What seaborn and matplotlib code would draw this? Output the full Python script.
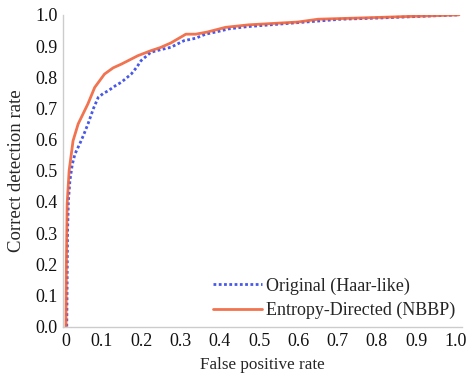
import pandas as pd
import numpy as np
import seaborn as sns
import matplotlib.pyplot as plt
import matplotlib.transforms as mtransforms

# Datos (curvas ROC)
fpr_haar = [0.002, 0.003, 0.004, 0.006, 0.010, 0.016, 0.023, 0.035, 0.045, 0.056, 0.070,
            0.082, 0.095, 0.107, 0.125, 0.141, 0.166, 0.180, 0.191, 0.216, 0.240,
            0.267, 0.300, 0.330, 0.355, 0.385, 0.414, 0.460, 0.520, 0.600, 0.700,
            0.800, 0.900, 1.000]
tpr_haar = [0.000, 0.150, 0.300, 0.400, 0.468, 0.520, 0.554, 0.586, 0.615, 0.650, 0.700,
            0.735, 0.748, 0.756, 0.772, 0.784, 0.810, 0.832, 0.853, 0.880, 0.888,
            0.896, 0.917, 0.925, 0.938, 0.946, 0.955, 0.962, 0.968, 0.976, 0.986,
            0.990, 0.995, 1.000]

fpr_nbbp = [0.000, 0.001, 0.003, 0.008, 0.018, 0.031, 0.056, 0.073, 0.098, 0.120,
            0.141, 0.183, 0.216, 0.240, 0.267, 0.305, 0.330, 0.360, 0.406, 0.465,
            0.590, 0.641, 0.800, 0.900, 1.000]
tpr_nbbp = [0.000, 0.200, 0.394, 0.500, 0.596, 0.650, 0.715, 0.767, 0.810, 0.830,
            0.842, 0.869, 0.885, 0.895, 0.910, 0.938, 0.938, 0.945, 0.960, 0.968,
            0.977, 0.986, 0.992, 0.996, 1.000]

sns.set_theme(style="white")
plt.rcParams['font.family'] = ['Liberation Serif', 'DejaVu Serif']

fig = plt.figure(figsize=(4.68, 3.81), dpi=100)
ax = fig.add_axes([0.1346, 0.143, 0.8526, 0.818])

df_haar = pd.DataFrame({'fpr': fpr_haar, 'tpr': tpr_haar})
df_nbbp = pd.DataFrame({'fpr': fpr_nbbp, 'tpr': tpr_nbbp})

sns.lineplot(data=df_haar, x='fpr', y='tpr', sort=False, estimator=None, ax=ax,
             color='#4858e8', linestyle=(0, (1, 0.9)), linewidth=2.0,
             label='Original (Haar-like)')
sns.lineplot(data=df_nbbp, x='fpr', y='tpr', sort=False, estimator=None, ax=ax,
             color='#f0643c', linewidth=2.0, label='Entropy-Directed (NBBP)', alpha=0.9)

ax.set_xlim(-0.0076, 1.0076)
ax.set_ylim(0, 1.0)
ax.set_xticks(np.arange(0, 1.01, 0.1))
ax.set_xticklabels(['0'] + [f'{v:.1f}' for v in np.arange(0.1, 1.01, 0.1)])
ax.set_yticks(np.arange(0, 1.01, 0.1))
ax.set_yticklabels([f'{v:.1f}' for v in np.arange(0, 1.01, 0.1)])
ax.tick_params(direction='in', length=3, width=0.8, color='#b0b0b0',
               labelsize=13, colors='#b0b0b0', labelcolor='#111111', pad=4)
ax.tick_params(axis='x', pad=5)

# etiquetas del eje x un poco corridas a la izquierda, como en el original
desplazamiento = mtransforms.ScaledTranslation(-3.5 / 100, 0, fig.dpi_scale_trans)
for lbl in ax.get_xticklabels()[1:]:
    lbl.set_transform(lbl.get_transform() + desplazamiento)

for side in ['top', 'right']:
    ax.spines[side].set_visible(False)
for side in ['left', 'bottom']:
    ax.spines[side].set_color('#cccccc')
    ax.spines[side].set_linewidth(1.0)

ax.set_xlabel('False positive rate', fontsize=12.3, labelpad=5)
ax.set_ylabel('Correct detection rate', fontsize=13.5, labelpad=7)

ax.legend(loc='lower right', frameon=False, fontsize=13, handlelength=2.7,
          handletextpad=0.2, borderaxespad=0.0, labelspacing=0.4)

fig.savefig('out.png', dpi=100)
